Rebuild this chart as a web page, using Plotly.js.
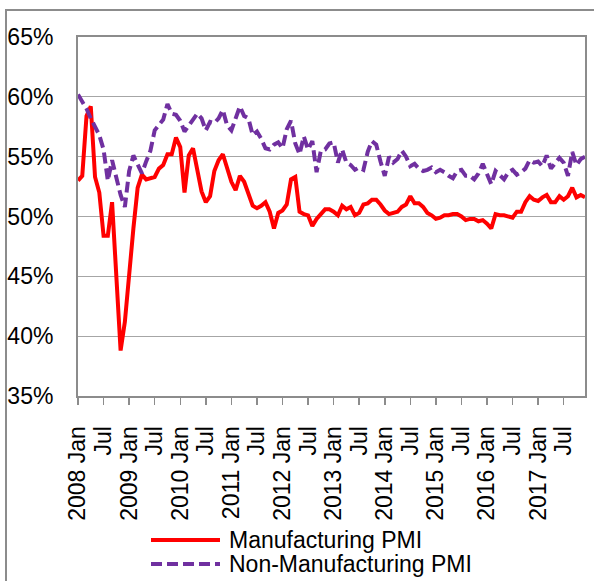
<!DOCTYPE html>
<html>
<head>
<meta charset="utf-8">
<script src="https://cdn.plot.ly/plotly-3.0.1.min.js"></script>
<style>
  html, body { margin: 0; padding: 0; background: #ffffff; }
  #wrap { position: relative; width: 594px; height: 581px; overflow: hidden; }
  #chart { position: absolute; left: 0; top: 0; width: 594px; height: 581px; }
  #frame { position: absolute; left: 5px; top: 9px; width: 600px; height: 600px;
           border-left: 2px solid #8c8c8c; border-top: 2px solid #8c8c8c; pointer-events: none; }
</style>
</head>
<body>
<div id="wrap"><div id="chart"></div><div id="frame"></div></div>
<script>
// ---- Data (monthly, 2008 Jan – 2017 Dec), values in % ----
const years = [2008, 2009, 2010, 2011, 2012, 2013, 2014, 2015, 2016, 2017];
const monthNames = ["Jan","Feb","Mar","Apr","May","Jun","Jul","Aug","Sep","Oct","Nov","Dec"];

const manufacturingPMI = [
  53.0, 53.4, 58.4, 59.2, 53.3, 52.0, 48.4, 48.4, 51.2, 44.6, 38.8, 41.2,
  45.3, 49.0, 52.4, 53.5, 53.1, 53.2, 53.3, 54.0, 54.3, 55.2, 55.2, 56.6,
  55.8, 52.0, 55.1, 55.7, 53.9, 52.1, 51.2, 51.7, 53.8, 54.7, 55.2, 53.9,
  52.9, 52.2, 53.4, 52.9, 52.0, 50.9, 50.7, 50.9, 51.2, 50.4, 49.0, 50.3,
  50.5, 51.0, 53.1, 53.3, 50.4, 50.2, 50.1, 49.2, 49.8, 50.2, 50.6, 50.6,
  50.4, 50.1, 50.9, 50.6, 50.8, 50.1, 50.3, 51.0, 51.1, 51.4, 51.4, 51.0,
  50.5, 50.2, 50.3, 50.4, 50.8, 51.0, 51.7, 51.1, 51.1, 50.8, 50.3, 50.1,
  49.8, 49.9, 50.1, 50.1, 50.2, 50.2, 50.0, 49.7, 49.8, 49.8, 49.6, 49.7,
  49.4, 49.0, 50.2, 50.1, 50.1, 50.0, 49.9, 50.4, 50.4, 51.2, 51.7, 51.4,
  51.3, 51.6, 51.8, 51.2, 51.2, 51.7, 51.4, 51.7, 52.4, 51.6, 51.8, 51.6
];

const nonManufacturingPMI = [
  60.2, 59.6, 59.0, 58.2, 57.5, 56.8, 55.6, 53.0, 54.7, 53.2, 51.8, 50.8,
  53.8, 55.1, 54.4, 53.6, 54.6, 55.5, 57.2, 57.7, 58.1, 59.4, 58.6, 58.5,
  58.0, 57.1, 57.6, 58.0, 58.6, 58.2, 57.2, 57.9, 57.8, 58.2, 58.9, 57.6,
  57.2, 58.2, 59.2, 58.4, 58.2, 56.8, 57.1, 56.5, 55.7, 55.6, 56.0, 56.2,
  55.7, 57.3, 58.0, 56.1, 55.2, 56.7, 55.6, 56.3, 53.7, 55.5, 55.6, 56.1,
  56.2, 54.5, 55.6, 54.5, 54.3, 53.9, 54.1, 53.9, 55.4, 56.3, 56.0, 54.6,
  53.4, 55.0, 54.5, 54.8, 55.5, 55.0, 54.2, 54.4, 54.0, 53.8, 53.9, 54.1,
  53.7, 53.9, 53.7, 53.4, 53.2, 53.8, 53.9, 53.4, 53.4, 53.1, 53.6, 54.4,
  53.5, 52.7, 53.8, 53.5, 53.1, 53.7, 53.9, 53.5, 53.7, 54.0, 54.7, 54.5,
  54.6, 54.2, 55.1, 54.0, 54.5, 54.9, 54.5, 53.4, 55.4, 54.3, 54.8, 55.0
];

const seriesNames = ["Manufacturing PMI", "Non-Manufacturing PMI"];
const tickMonths = ["Jan", "Jul"];
const yTicks = [35, 40, 45, 50, 55, 60, 65];
const yTickText = ["35%", "40%", "45%", "50%", "55%", "60%", "65%"];

// Category labels for each month
const months = [];
years.forEach(y => monthNames.forEach(m => months.push(y + " " + m)));

// Tick labels every 6 months: "YYYY Jan" and "Jul"
const tickVals = [], tickText = [];
years.forEach(y => {
  tickVals.push(y + " Jan"); tickText.push(y + " " + tickMonths[0]);
  tickVals.push(y + " Jul"); tickText.push(tickMonths[1]);
});

const FONT = "Arial, 'Liberation Sans', Helvetica, sans-serif";
const RED = "#ff0000", PURPLE = "#7030a0", AXIS = "#8c8c8c";

const traces = [
  { x: months, y: manufacturingPMI, name: seriesNames[0], type: "scatter", mode: "lines",
    line: { color: RED, width: 4 } },
  { x: months, y: nonManufacturingPMI, name: seriesNames[1], type: "scatter", mode: "lines",
    line: { color: PURPLE, width: 4, dash: "11px,5px" } }
];

// plot area: x 78..585, y 37..396
const L = 78, R = 585, T = 37, B = 396;
const px = v => (v - L) / (R - L);
const py = v => (B - v) / (B - T);

const layout = {
  width: 594, height: 581,
  margin: { l: L, r: 594 - R, t: T, b: 581 - B, pad: 0 },
  paper_bgcolor: "rgba(0,0,0,0)", plot_bgcolor: "#ffffff",
  showlegend: false,
  font: { family: FONT, size: 23, color: "#000000" },
  xaxis: {
    type: "category", range: [0, months.length - 1],
    tickmode: "array", tickvals: tickVals, ticktext: tickText,
    tickangle: -90, ticks: "outside", ticklen: 7, tickwidth: 1.5, tickcolor: AXIS,
    ticklabelstandoff: 12,
    showgrid: false, showline: true, linecolor: AXIS, linewidth: 2, mirror: true,
    zeroline: false, tickfont: { family: FONT, size: 23, color: "#000000" }
  },
  yaxis: {
    range: [35, 65], tickmode: "array", tickvals: yTicks, ticktext: yTickText,
    ticks: "", showgrid: true, gridcolor: "#a6a6a6", gridwidth: 1.3,
    showline: true, linecolor: AXIS, linewidth: 2, mirror: true, zeroline: false,
    ticklabelstandoff: 18,
    tickfont: { family: FONT, size: 23, color: "#000000" }
  },
  shapes: [
    { type: "line", xref: "paper", yref: "paper", x0: px(151), x1: px(220), y0: py(540), y1: py(540),
      line: { color: RED, width: 4 } },
    { type: "line", xref: "paper", yref: "paper", x0: px(151), x1: px(220), y0: py(564), y1: py(564),
      line: { color: PURPLE, width: 4, dash: "11px,5px" } }
  ],
  annotations: [
    { xref: "paper", yref: "paper", x: px(227), y: py(540), xanchor: "left", yanchor: "middle",
      text: seriesNames[0], showarrow: false, font: { family: FONT, size: 23, color: "#000000" } },
    { xref: "paper", yref: "paper", x: px(227), y: py(564), xanchor: "left", yanchor: "middle",
      text: seriesNames[1], showarrow: false, font: { family: FONT, size: 23, color: "#000000" } }
  ]
};

Plotly.newPlot("chart", traces, layout, { staticPlot: true, displayModeBar: false });
</script>
</body>
</html>
